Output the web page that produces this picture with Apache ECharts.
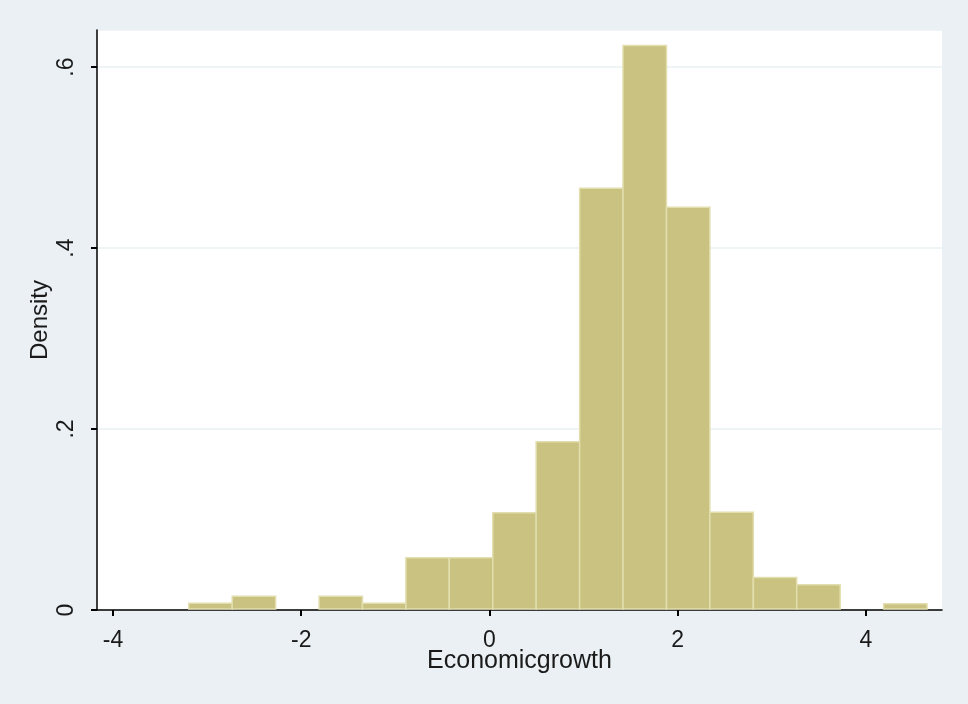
<!DOCTYPE html>
<html>
<head>
<meta charset="utf-8">
<script src="https://cdn.jsdelivr.net/npm/echarts@6/dist/echarts.min.js"></script>
<style>
  html, body { margin: 0; padding: 0; background: #eaf0f3; }
  #main { width: 968px; height: 704px; }
</style>
</head>
<body>
<div id="main"></div>
<script>
// bin edges of the histogram (left edge of each bin, plus final right edge)
var binEdges = [-3.195, -2.733, -2.272, -1.810, -1.349, -0.887, -0.426, 0.036, 0.497,
  0.959, 1.420, 1.882, 2.343, 2.805, 3.266, 3.728, 4.190, 4.651];
// density of each bin
var densities = [0.0074, 0.0152, 0, 0.0152, 0.0074, 0.0578, 0.0578, 0.1075, 0.186,
  0.466, 0.624, 0.445, 0.108, 0.036, 0.028, 0, 0.0070];
var xTicks = [-4, -2, 0, 2, 4];
var yTickLabels = { 0: '0', 0.2: '.2', 0.4: '.4', 0.6: '.6' };

var bins = densities.map(function (d, i) {
  return [binEdges[i], binEdges[i + 1], d];
});

var chart = echarts.init(document.getElementById('main'));
var font = 'Liberation Sans, Arial, sans-serif';

chart.setOption({
  backgroundColor: '#eaf0f3',
  animation: false,
  grid: {
    left: 97,
    right: 26,
    top: 30,
    bottom: 94,
    show: true,
    backgroundColor: '#ffffff',
    borderWidth: 0
  },
  xAxis: {
    type: 'value',
    min: -4.17,
    max: 4.81,
    name: 'Economicgrowth',
    nameLocation: 'middle',
    nameGap: 39,
    nameMoveOverlap: false,
    nameTextStyle: { fontFamily: font, fontSize: 25, color: '#1a1a1a' },
    axisLine: { show: true, onZero: false, lineStyle: { color: '#000', width: 1.5 } },
    axisTick: { show: true, length: 6, customValues: xTicks, lineStyle: { color: '#000', width: 2 } },
    axisLabel: {
      customValues: xTicks,
      margin: 19,
      fontFamily: font,
      fontSize: 23,
      color: '#1a1a1a'
    },
    splitLine: { show: false }
  },
  yAxis: {
    type: 'value',
    min: 0,
    max: 0.641,
    interval: 0.2,
    name: 'Density',
    nameLocation: 'middle',
    nameGap: 45,
    nameMoveOverlap: false,
    nameRotate: 90,
    nameTextStyle: { fontFamily: font, fontSize: 24, color: '#1a1a1a' },
    axisLine: { show: true, onZero: false, lineStyle: { color: '#000', width: 1.5 } },
    axisTick: { show: true, length: 6, lineStyle: { color: '#000', width: 2 } },
    axisLabel: {
      rotate: 90,
      margin: 19,
      fontFamily: font,
      fontSize: 23,
      color: '#1a1a1a',
      showMaxLabel: false,
      formatter: function (v) {
        var k = Math.round(v * 10) / 10;
        return yTickLabels[k] !== undefined ? yTickLabels[k] : '';
      }
    },
    splitLine: { show: true, lineStyle: { color: '#eaf2f3', width: 1.5 } }
  },
  series: [{
    type: 'custom',
    data: bins,
    encode: { x: [0, 1], y: 2 },
    renderItem: function (params, api) {
      var h = api.value(2);
      if (!h) return null;
      var p0 = api.coord([api.value(0), h]);
      var p1 = api.coord([api.value(1), 0]);
      return {
        type: 'rect',
        shape: { x: p0[0], y: p0[1], width: p1[0] - p0[0], height: p1[1] - p0[1] - 1 },
        style: { fill: '#cac281', stroke: '#e2deae', lineWidth: 1.5 }
      };
    }
  }]
});
</script>
</body>
</html>
